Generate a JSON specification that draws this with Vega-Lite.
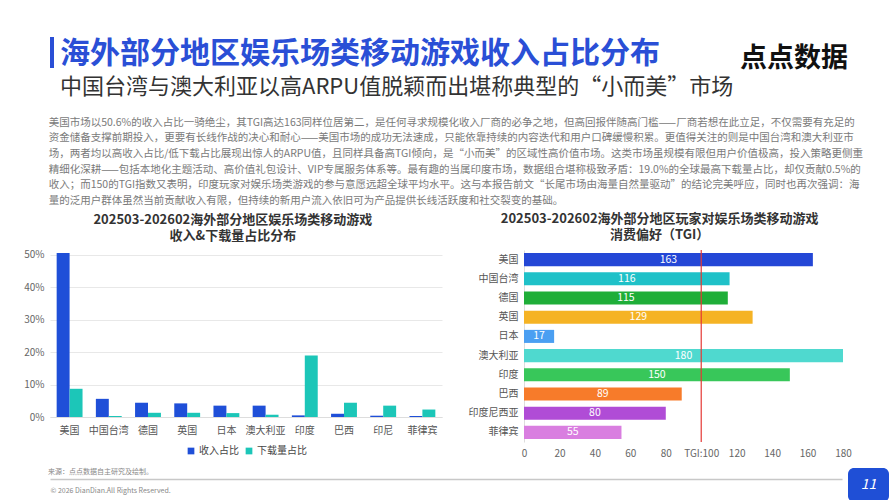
{
  "$schema": "https://vega.github.io/schema/vega-lite/v6.json",
  "background": "white",
  "padding": {"left": 23, "top": 37, "right": 0, "bottom": 0},
  "config": {
    "font": "Noto Sans CJK SC",
    "view": {"stroke": null},
    "title": {"font": "Noto Sans CJK SC"},
    "axis": {"labelFont": "Noto Sans CJK SC", "titleFont": "Noto Sans CJK SC"},
    "legend": {"labelFont": "Noto Sans CJK SC", "layout": {"bottom": {"anchor": "middle"}}}
  },
  "spacing": 10,
  "vconcat": [
    {
      "spacing": 0,
      "hconcat": [
        {"width": 4, "height": 31, "view": {"fill": "#2a4fd6", "stroke": null}, "data": {"values": []}, "mark": "point"},
        {
          "width": 686, "height": 0,
          "title": {
            "text": "海外部分地区娱乐场类移动游戏收入占比分布",
            "subtitle": "中国台湾与澳大利亚以高ARPU值脱颖而出堪称典型的“小而美”市场",
            "orient": "bottom",
            "anchor": "start", "frame": "group", "dx": 6, "dy": -18, "offset": 0,
            "fontSize": 30, "fontWeight": "bold", "color": "#2a4fd6",
            "subtitleFontSize": 22, "subtitleColor": "#333333", "subtitlePadding": 8,
            "subtitleFont": "Noto Sans CJK SC"
          },
          "data": {"values": []}, "mark": "point"
        },
        {
          "width": 107, "height": 0,
          "title": {"text": "点点数据", "orient": "bottom", "anchor": "end", "frame": "group", "offset": 2, "dy": -13, "fontSize": 27, "fontWeight": "bold", "color": "#111111"},
          "data": {"values": []}, "mark": "point"
        },
        {"width": 1, "height": 70, "data": {"values": []}, "mark": "point"}
      ]
    },
    {
      "title": {
        "text": [
          "美国市场以50.6%的收入占比一骑绝尘，其TGI高达163同样位居第二，是任何寻求规模化收入厂商的必争之地，但高回报伴随高门槛——厂商若想在此立足，不仅需要有充足的",
          "资金储备支撑前期投入，更要有长线作战的决心和耐心——美国市场的成功无法速成，只能依靠持续的内容迭代和用户口碑缓慢积累。更值得关注的则是中国台湾和澳大利亚市",
          "场，两者均以高收入占比/低下载占比展现出惊人的ARPU值，且同样具备高TGI倾向，是“小而美”的区域性高价值市场。这类市场虽规模有限但用户价值极高，投入策略更侧重",
          "精细化深耕——包括本地化主题活动、高价值礼包设计、VIP专属服务体系等。最有趣的当属印度市场，数据组合堪称极致矛盾：19.0%的全球最高下载量占比，却仅贡献0.5%的",
          "收入；而150的TGI指数又表明，印度玩家对娱乐场类游戏的参与意愿远超全球平均水平。这与本报告前文“长尾市场由海量自然量驱动”的结论完美呼应，同时也再次强调：海",
          "量的泛用户群体虽然当前贡献收入有限，但持续的新用户流入依旧可为产品提供长线活跃度和社交裂变的基础。"
        ],
        "anchor": "start", "frame": "bounds", "dx": 25, "offset": 7,
        "fontSize": 10.5, "fontWeight": "normal", "color": "#7a7a7a", "lineHeight": 15.6
      },
      "spacing": 26,
      "resolve": {"scale": {"color": "independent"}, "legend": {"color": "independent"}},
      "hconcat": [
        {
          "title": {
            "text": ["202503-202602海外部分地区娱乐场类移动游戏", "收入&下载量占比分布"],
            "anchor": "middle", "frame": "bounds", "offset": 7,
            "fontSize": 13, "fontWeight": "bold", "color": "#333333", "lineHeight": 16
          },
          "width": 392, "height": 167,
          "data": {"values": [
            {"country": "美国", "metric": "收入占比", "value": 50.6},
            {"country": "美国", "metric": "下载量占比", "value": 8.7},
            {"country": "中国台湾", "metric": "收入占比", "value": 5.6},
            {"country": "中国台湾", "metric": "下载量占比", "value": 0.3},
            {"country": "德国", "metric": "收入占比", "value": 4.4},
            {"country": "德国", "metric": "下载量占比", "value": 1.3},
            {"country": "英国", "metric": "收入占比", "value": 4.2},
            {"country": "英国", "metric": "下载量占比", "value": 1.3},
            {"country": "日本", "metric": "收入占比", "value": 3.5},
            {"country": "日本", "metric": "下载量占比", "value": 1.2},
            {"country": "澳大利亚", "metric": "收入占比", "value": 3.5},
            {"country": "澳大利亚", "metric": "下载量占比", "value": 0.7},
            {"country": "印度", "metric": "收入占比", "value": 0.5},
            {"country": "印度", "metric": "下载量占比", "value": 19.0},
            {"country": "巴西", "metric": "收入占比", "value": 1.0},
            {"country": "巴西", "metric": "下载量占比", "value": 4.4},
            {"country": "印尼", "metric": "收入占比", "value": 0.4},
            {"country": "印尼", "metric": "下载量占比", "value": 3.5},
            {"country": "菲律宾", "metric": "收入占比", "value": 0.3},
            {"country": "菲律宾", "metric": "下载量占比", "value": 2.3}
          ]},
          "mark": {"type": "bar"},
          "encoding": {
            "x": {
              "field": "country", "type": "nominal",
              "sort": ["美国", "中国台湾", "德国", "英国", "日本", "澳大利亚", "印度", "巴西", "印尼", "菲律宾"],
              "scale": {"paddingInner": 0.34, "paddingOuter": 0.17},
              "axis": {"title": null, "labelAngle": 0, "ticks": false, "domain": true, "domainColor": "#dddddd", "labelColor": "#555555", "labelFontSize": 10, "labelPadding": 8}
            },
            "xOffset": {"field": "metric", "sort": ["收入占比", "下载量占比"]},
            "y": {
              "field": "value", "type": "quantitative",
              "scale": {"domain": [0, 51.5], "nice": false},
              "axis": {"title": null, "values": [0, 10, 20, 30, 40, 50], "labelExpr": "datum.value + '%'", "ticks": false, "domain": false, "grid": true, "gridColor": "#e8e8e8", "labelColor": "#666666", "labelFontSize": 10, "labelPadding": 6}
            },
            "color": {
              "field": "metric", "type": "nominal",
              "scale": {"domain": ["收入占比", "下载量占比"], "range": ["#1f4fd8", "#1cc6b8"]},
              "legend": {"orient": "bottom", "direction": "horizontal", "title": null, "symbolType": "square", "symbolSize": 45, "labelFontSize": 10, "labelColor": "#444444", "columnPadding": 5, "labelOffset": 3, "offset": 11}
            }
          }
        },
        {
          "title": {
            "text": ["202503-202602海外部分地区玩家对娱乐场类移动游戏", "消费偏好（TGI）"],
            "anchor": "middle", "frame": "bounds", "offset": 7,
            "fontSize": 13, "fontWeight": "bold", "color": "#333333", "lineHeight": 16
          },
          "width": 319, "height": 192,
          "data": {"values": [
            {"country": "美国", "tgi": 163},
            {"country": "中国台湾", "tgi": 116},
            {"country": "德国", "tgi": 115},
            {"country": "英国", "tgi": 129},
            {"country": "日本", "tgi": 17},
            {"country": "澳大利亚", "tgi": 180},
            {"country": "印度", "tgi": 150},
            {"country": "巴西", "tgi": 89},
            {"country": "印度尼西亚", "tgi": 80},
            {"country": "菲律宾", "tgi": 55}
          ]},
          "layer": [
            {
              "mark": {"type": "bar"},
              "encoding": {
                "y": {
                  "field": "country", "type": "nominal",
                  "sort": ["美国", "中国台湾", "德国", "英国", "日本", "澳大利亚", "印度", "巴西", "印度尼西亚", "菲律宾"],
                  "scale": {"paddingInner": 0.32, "paddingOuter": 0.16},
                  "axis": {"title": null, "ticks": false, "domain": true, "domainColor": "#dddddd", "labelColor": "#555555", "labelFontSize": 10, "labelPadding": 6}
                },
                "x": {
                  "field": "tgi", "type": "quantitative",
                  "scale": {"domain": [0, 180], "nice": false},
                  "axis": {"title": null, "values": [0, 20, 40, 60, 80, 100, 120, 140, 160, 180], "labelExpr": "datum.value === 100 ? 'TGI:100' : datum.label", "labelFlush": false, "labelOverlap": false, "ticks": false, "domain": false, "grid": false, "labelColor": "#666666", "labelFontSize": 10, "labelPadding": 6}
                },
                "color": {
                  "field": "country", "type": "nominal",
                  "scale": {
                    "domain": ["美国", "中国台湾", "德国", "英国", "日本", "澳大利亚", "印度", "巴西", "印度尼西亚", "菲律宾"],
                    "range": ["#2447d6", "#1fc1c8", "#1fae38", "#f5b324", "#4b9ff2", "#4fd9cf", "#38c75a", "#f77b2a", "#b04cd6", "#d97ee0"]
                  },
                  "legend": null
                }
              }
            },
            {
              "mark": {"type": "text", "color": "white", "fontSize": 10.5},
              "encoding": {
                "y": {
                  "field": "country", "type": "nominal",
                  "sort": ["美国", "中国台湾", "德国", "英国", "日本", "澳大利亚", "印度", "巴西", "印度尼西亚", "菲律宾"]
                },
                "x": {"field": "tgi", "type": "quantitative", "scale": {"domain": [0, 360], "nice": false}, "axis": null},
                "text": {"field": "tgi", "type": "quantitative"}
              }
            },
            {
              "data": {"values": [{"ref": 100}]},
              "mark": {"type": "rule", "color": "#e53935", "strokeWidth": 1.2},
              "encoding": {
                "x": {"field": "ref", "type": "quantitative", "scale": {"domain": [0, 180], "nice": false}, "axis": null}
              }
            }
          ],
          "resolve": {"scale": {"x": "independent"}}
        }
      ]
    },
    {
      "spacing": 0,
      "hconcat": [
        {
          "width": 792, "height": 11,
          "title": {"text": "来源：点点数据自主研究及绘制。", "anchor": "start", "frame": "group", "dx": -2, "offset": -7, "fontSize": 7, "fontWeight": "normal", "color": "#888888"},
          "data": {"values": [{"v": 0}]},
          "mark": {"type": "point", "opacity": 0},
          "encoding": {
            "x": {
              "field": "v", "type": "quantitative", "scale": {"domain": [0, 1]},
              "axis": {"title": "© 2026 DianDian.All Rights Reserved.", "labels": false, "ticks": false, "grid": false, "domain": true, "domainColor": "#c8c8c8", "domainWidth": 1.5, "titleAnchor": "start", "titleFontSize": 7, "titleFontWeight": "normal", "titleColor": "#888888", "titlePadding": 7}
            }
          }
        },
        {"width": 6, "height": 0, "data": {"values": []}, "mark": "point"},
        {
          "width": 41, "height": 34,
          "view": {"fill": "#1f4fd6", "stroke": null, "cornerRadius": 6},
          "data": {"values": [{"page": "11"}]},
          "mark": {"type": "text", "color": "white", "fontSize": 14, "fontStyle": "italic"},
          "encoding": {"text": {"field": "page", "type": "nominal"}}
        }
      ]
    }
  ]
}
